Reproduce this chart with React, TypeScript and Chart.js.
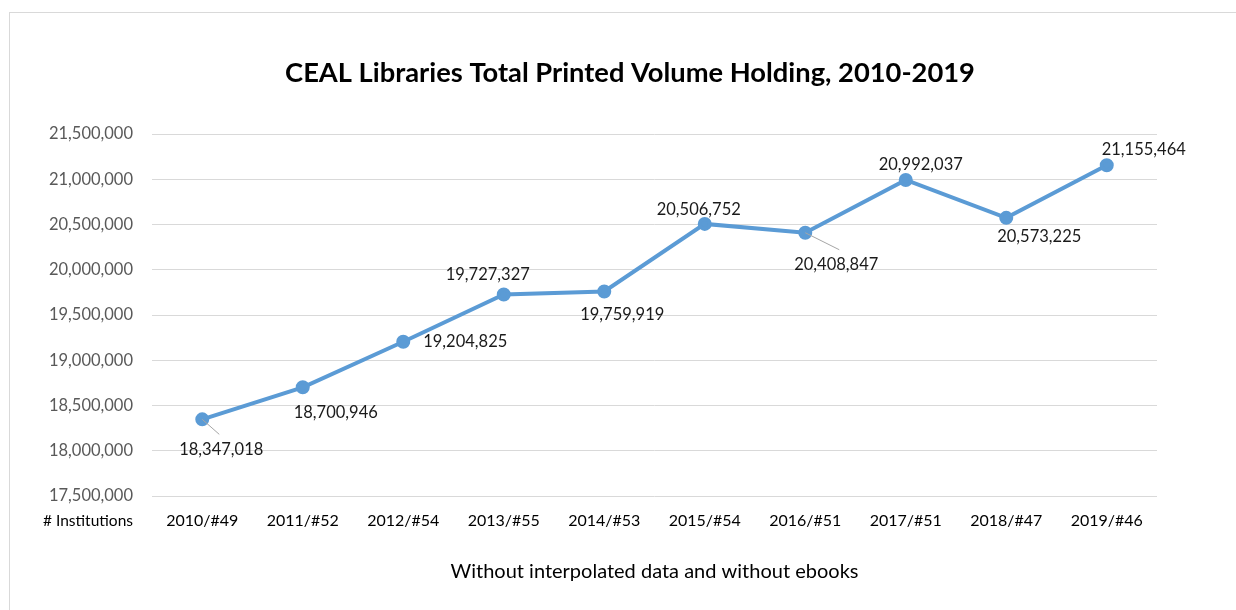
import React, { useEffect, useRef } from "react";
import { Chart, registerables } from "chart.js";

Chart.register(...registerables);

const CATEGORIES = [
  "2010/#49",
  "2011/#52",
  "2012/#54",
  "2013/#55",
  "2014/#53",
  "2015/#54",
  "2016/#51",
  "2017/#51",
  "2018/#47",
  "2019/#46",
];
const VOLUMES = [
  18347018, 18700946, 19204825, 19727327, 19759919, 20506752, 20408847, 20992037,
  20573225, 21155464,
];
const Y_MIN = 17500000;
const Y_MAX = 21500000;
const Y_STEP = 500000;
const TITLE = "CEAL Libraries Total Printed Volume Holding, 2010-2019";
const X_TITLE = "Without interpolated data and without ebooks";
const X_LEAD = "# Institutions";

// label placement (style): offset of label centre from its point
const LABEL_OFFSETS: [number, number][] = [
  [19, 30],
  [33, 25],
  [62, 0],
  [-16, -20],
  [18, 23],
  [-6, -14],
  [31, 32],
  [15, -15],
  [33, 19],
  [37, -16],
];
// leader lines (style): end offset from point, or null
const LEADERS: ([number, number] | null)[] = [
  [17, 15],
  null,
  null,
  null,
  null,
  null,
  [34, 17],
  null,
  null,
  null,
];

const FONT = "Lato, 'Open Sans', sans-serif";
const fmt = (v: number) => v.toLocaleString("en-US");

const decorPlugin = {
  id: "decor",
  beforeDraw(chart: any) {
    const ctx = chart.ctx;
    ctx.save();
    ctx.fillStyle = "#ffffff";
    ctx.fillRect(0, 0, chart.width, chart.height);
    ctx.strokeStyle = "#d9d9d9";
    ctx.lineWidth = 1;
    ctx.strokeRect(9.5, 12.5, chart.width + 20, chart.height + 20);
    ctx.restore();
  },
  afterDraw(chart: any) {
    const ctx = chart.ctx;
    const xScale = chart.scales.x;
    const yScale = chart.scales.y;
    ctx.save();
    ctx.font = `bold 27.3px ${FONT}`;
    ctx.fillStyle = "#000000";
    ctx.textAlign = "center";
    ctx.textBaseline = "middle";
    ctx.fillText(TITLE, 630, 73);
    ctx.font = `15.5px ${FONT}`;
    ctx.textAlign = "right";
    ctx.fillText(X_LEAD, yScale.right - 19, xScale.top + 25);
    ctx.restore();
  },
};

const labelPlugin = {
  id: "pointLabels",
  afterDatasetsDraw(chart: any) {
    const ctx = chart.ctx;
    const meta = chart.getDatasetMeta(0);
    ctx.save();
    meta.data.forEach((pt: any, i: number) => {
      const leader = LEADERS[i];
      if (leader) {
        ctx.strokeStyle = "#a6a6a6";
        ctx.lineWidth = 1;
        ctx.beginPath();
        ctx.moveTo(pt.x, pt.y);
        ctx.lineTo(pt.x + leader[0], pt.y + leader[1]);
        ctx.stroke();
      }
      const [dx, dy] = LABEL_OFFSETS[i];
      ctx.font = `16.5px ${FONT}`;
      ctx.fillStyle = "#1a1a1a";
      ctx.textAlign = "center";
      ctx.textBaseline = "middle";
      ctx.fillText(fmt(VOLUMES[i]), pt.x + dx, pt.y + dy);
    });
    ctx.restore();
  },
};

export default function App() {
  const ref = useRef<HTMLCanvasElement | null>(null);
  useEffect(() => {
    if (!ref.current) return;
    const chart = new Chart(ref.current, {
      type: "line",
      data: {
        labels: CATEGORIES,
        datasets: [
          {
            data: VOLUMES,
            borderColor: "#5b9bd5",
            backgroundColor: "#5b9bd5",
            borderWidth: 4,
            pointRadius: 5,
            pointBackgroundColor: "#5b9bd5",
            pointBorderColor: "#5b9bd5",
            tension: 0,
          },
        ],
      },
      options: {
        responsive: false,
        animation: false,
        layout: { padding: { left: 0, right: 79, top: 134, bottom: 0 } },
        plugins: {
          legend: { display: false },
          tooltip: { enabled: false },
          title: { display: false },
        },
        scales: {
          x: {
            type: "category",
            offset: true,
            grid: { display: false, drawTicks: false },
            border: { display: false },
            ticks: {
              color: "#000000",
              font: { family: FONT, size: 16 },
              padding: 15,
              autoSkip: false,
              maxRotation: 0,
            },
            title: {
              display: true,
              text: X_TITLE,
              color: "#000000",
              font: { family: FONT, size: 20, lineHeight: 1.2 },
              padding: { top: 0, bottom: 26 },
            },
            afterFit: (s: any) => {
              s.height = 114;
            },
          },
          y: {
            min: Y_MIN,
            max: Y_MAX,
            grid: { color: "#d9d9d9", lineWidth: 1, drawTicks: false },
            border: { display: false },
            ticks: {
              stepSize: Y_STEP,
              color: "#595959",
              font: { family: FONT, size: 16.5 },
              padding: 19,
              callback: (v: any) => fmt(Number(v)),
            },
            afterFit: (s: any) => {
              s.width = 152;
            },
          },
        },
      },
      plugins: [decorPlugin, labelPlugin],
    });
    return () => chart.destroy();
  }, []);
  return (
    <div style={{ position: "fixed", left: 0, top: 0, width: 1236, height: 610, background: "#fff" }}>
      <canvas ref={ref} width={1236} height={610} style={{ display: "block" }} />
    </div>
  );
}
